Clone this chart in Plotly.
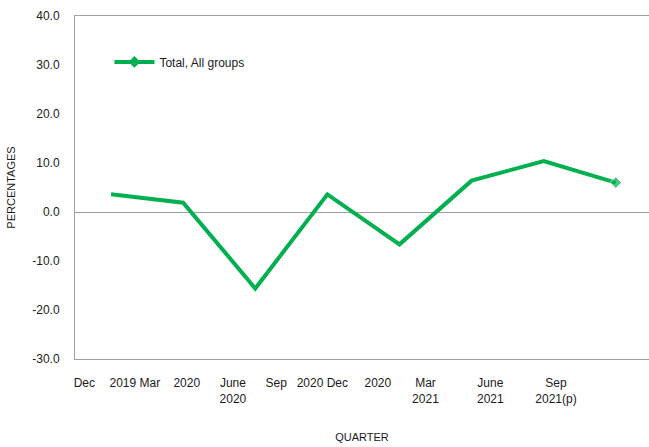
import plotly.graph_objects as go

quarters = ["Dec 2019", "Mar 2020", "June 2020", "Sep 2020", "Dec 2020",
            "Mar 2021", "June 2021", "Sep 2021(p)"]
values = [3.6, 1.9, -15.6, 3.6, -6.6, 6.4, 10.4, 6.0]
series_name = "Total, All groups"

# tick labels as they appear (wrapped) under the axis
tick_text = ["Dec", "2019 Mar", "2020", "June<br>2020", "Sep", "2020 Dec",
             "2020", "Mar<br>2021", "June<br>2021", "Sep<br>2021(p)"]
tick_pos = [-0.37, 0.33, 1.05, 1.69, 2.29, 2.93, 3.70, 4.36, 5.26, 6.17]

y_ticks = [40, 30, 20, 10, 0, -10, -20, -30]

GREEN = "#00B050"
FONT = "Liberation Sans"

x_idx = list(range(len(quarters)))
marker_sizes = [0] * (len(values) - 1) + [9]

fig = go.Figure()
fig.add_trace(go.Scatter(
    x=x_idx, y=values, name=series_name, text=quarters,
    mode="lines+markers", showlegend=False,
    line=dict(color=GREEN, width=4),
    marker=dict(symbol="diamond", size=marker_sizes, color=GREEN),
    hovertemplate="%{text}: %{y:.1f}<extra></extra>",
))
# legend entry (line with diamond)
fig.add_trace(go.Scatter(
    x=[None], y=[None], name=series_name, mode="lines+markers",
    line=dict(color=GREEN, width=4),
    marker=dict(symbol="diamond", size=9, color=GREEN),
))

fig.update_layout(
    width=649, height=447,
    margin=dict(l=75, r=0, t=16, b=88),
    paper_bgcolor="white", plot_bgcolor="white",
    font=dict(family=FONT, size=12, color="#1a1a1a"),
    showlegend=True,
    legend=dict(x=0.06, y=0.866, xanchor="left", yanchor="middle",
                itemwidth=40,
                bgcolor="rgba(0,0,0,0)", font=dict(size=12, color="#1a1a1a")),
    xaxis=dict(range=[-0.5, 7.46], showgrid=False, zeroline=False,
               showline=True, linecolor="#a0a0a0", linewidth=1, mirror=True,
               tickmode="array", tickvals=tick_pos, ticktext=tick_text,
               ticks="", ticklabelstandoff=13, automargin=False,
               title=dict(text="QUARTER", font=dict(size=11), standoff=28)),
    yaxis=dict(range=[-30, 40], showgrid=False,
               zeroline=True, zerolinecolor="#a0a0a0", zerolinewidth=1,
               showline=True, linecolor="#a0a0a0", linewidth=1,
               tickmode="array", tickvals=y_ticks,
               ticktext=[f"{v:.1f}" for v in y_ticks],
               ticks="", ticklabelstandoff=12, automargin=False,
               title=dict(text="PERCENTAGES", font=dict(size=11), standoff=14)),
)

fig.write_html("out.html", config={"displayModeBar": False},
               post_script="document.body.style.margin='0';")
